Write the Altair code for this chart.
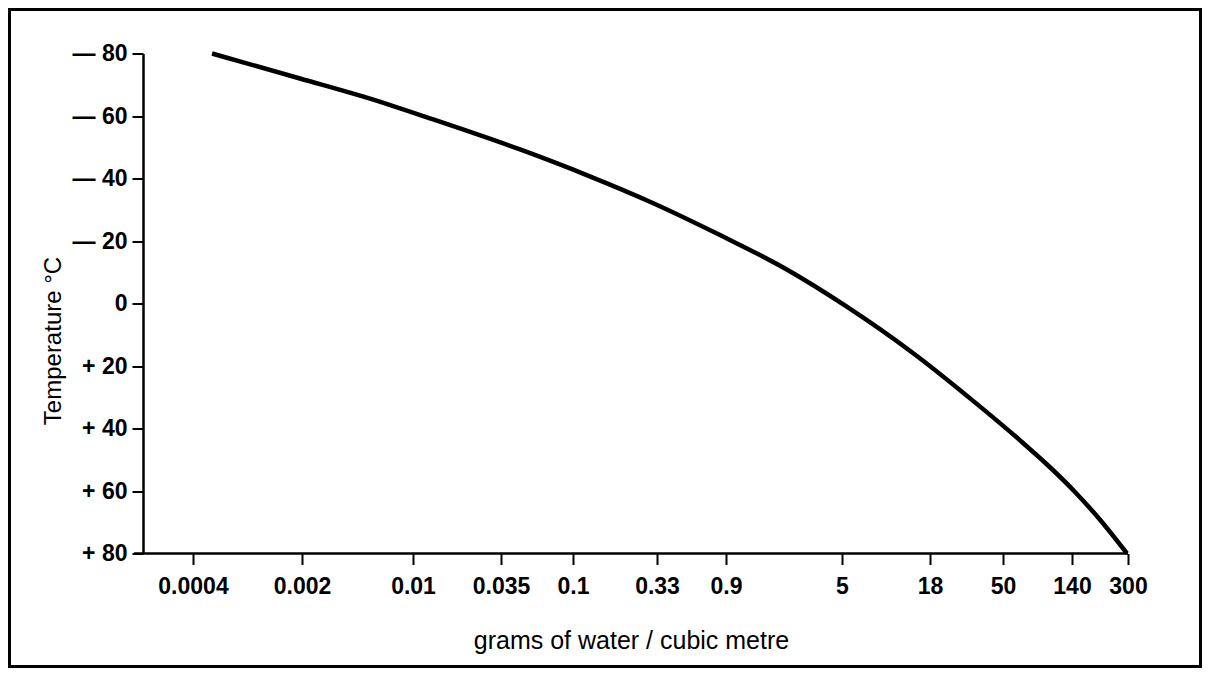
import altair as alt
import pandas as pd

# Curve: temperature (°C) vs grams of water per cubic metre
temps = [-80, -72.0, -65.9, -58.9, -49.3, -41.1, -32.1, -21.9, -10.9, 1.0,
         15.9, 33.0, 43.8, 52.4, 60.3, 69.2, 80]
water = [0.00053, 0.00194, 0.00511, 0.01335, 0.0462, 0.1215, 0.313, 0.825,
         2.21, 5.36, 14.1, 36.3, 64.5, 100.8, 145.8, 205, 296]

# Axis tick values
x_ticks = [0.0004, 0.002, 0.01, 0.035, 0.1, 0.33, 0.9, 5, 18, 50, 140, 300]
y_ticks = [-80, -60, -40, -20, 0, 20, 40, 60, 80]

df = pd.DataFrame({"temp": temps, "water": water})

FONT = "Liberation Sans"
W, H = 985, 500

# the original scale is hand-spaced: piecewise log between the labelled values
x_range = [50, 159, 270, 358, 430, 514, 583, 699, 787, 860, 929, 985]

x_enc = alt.X(
    "water:Q",
    scale=alt.Scale(type="log", domain=x_ticks, range=x_range, nice=False),
    axis=alt.Axis(
        values=x_ticks, format="~g", grid=False, domain=False,
        title="grams of water / cubic metre",
        titleFont=FONT, titleFontSize=25, titleFontWeight="normal",
        titleBaseline="alphabetic", titleX=488, titleY=95, titleColor="black",
        labelFont=FONT, labelFontSize=23, labelFontWeight="bold",
        labelColor="black", labelPadding=11, labelFlush=False, labelOverlap=False,
        tickSize=11, tickWidth=2, tickColor="black",
    ),
)

y_enc = alt.Y(
    "temp:Q",
    scale=alt.Scale(domain=[-80, 80], reverse=True, nice=False, zero=False),
    axis=alt.Axis(
        values=y_ticks, grid=False,
        labelExpr="datum.value < 0 ? '\u2014 ' + abs(datum.value) : (datum.value > 0 ? '+ ' + datum.value : '0')",
        title="Temperature °C",
        titleFont=FONT, titleFontSize=24, titleFontWeight="normal",
        titleX=-78, titleY=287, titleColor="black",
        labelFont=FONT, labelFontSize=23, labelFontWeight="bold",
        labelColor="black", labelPadding=5, labelFlush=False, labelOverlap=False,
        tickSize=11, tickWidth=2, tickColor="black",
        domainColor="black", domainWidth=2.5,
    ),
)

curve = alt.Chart(df).mark_line(
    color="black", strokeWidth=4.5, interpolate="monotone", strokeCap="butt"
).encode(x=x_enc, y=y_enc)

# x axis line, running a little past the y axis as in the original
x_line = alt.Chart(pd.DataFrame({"f": [0]})).mark_rule(
    color="black", strokeWidth=2.5
).encode(x=alt.value(-9), x2=alt.value(W), y=alt.value(H))

frame = alt.Chart(pd.DataFrame({"f": [0]})).mark_rect(
    fillOpacity=0, stroke="black", strokeWidth=3
).encode(
    x=alt.value(-133.5), x2=alt.value(1057.5),
    y=alt.value(-44), y2=alt.value(613),
)

chart = alt.layer(x_line, curve, frame).properties(
    width=W, height=H,
    autosize=alt.AutoSizeParams(type="none"),
    padding={"left": 135, "top": 45.5, "right": 74, "bottom": 114.5},
    background="white",
).configure_view(stroke=None)

chart.save("out.html", embed_options={"renderer": "svg", "actions": False})
